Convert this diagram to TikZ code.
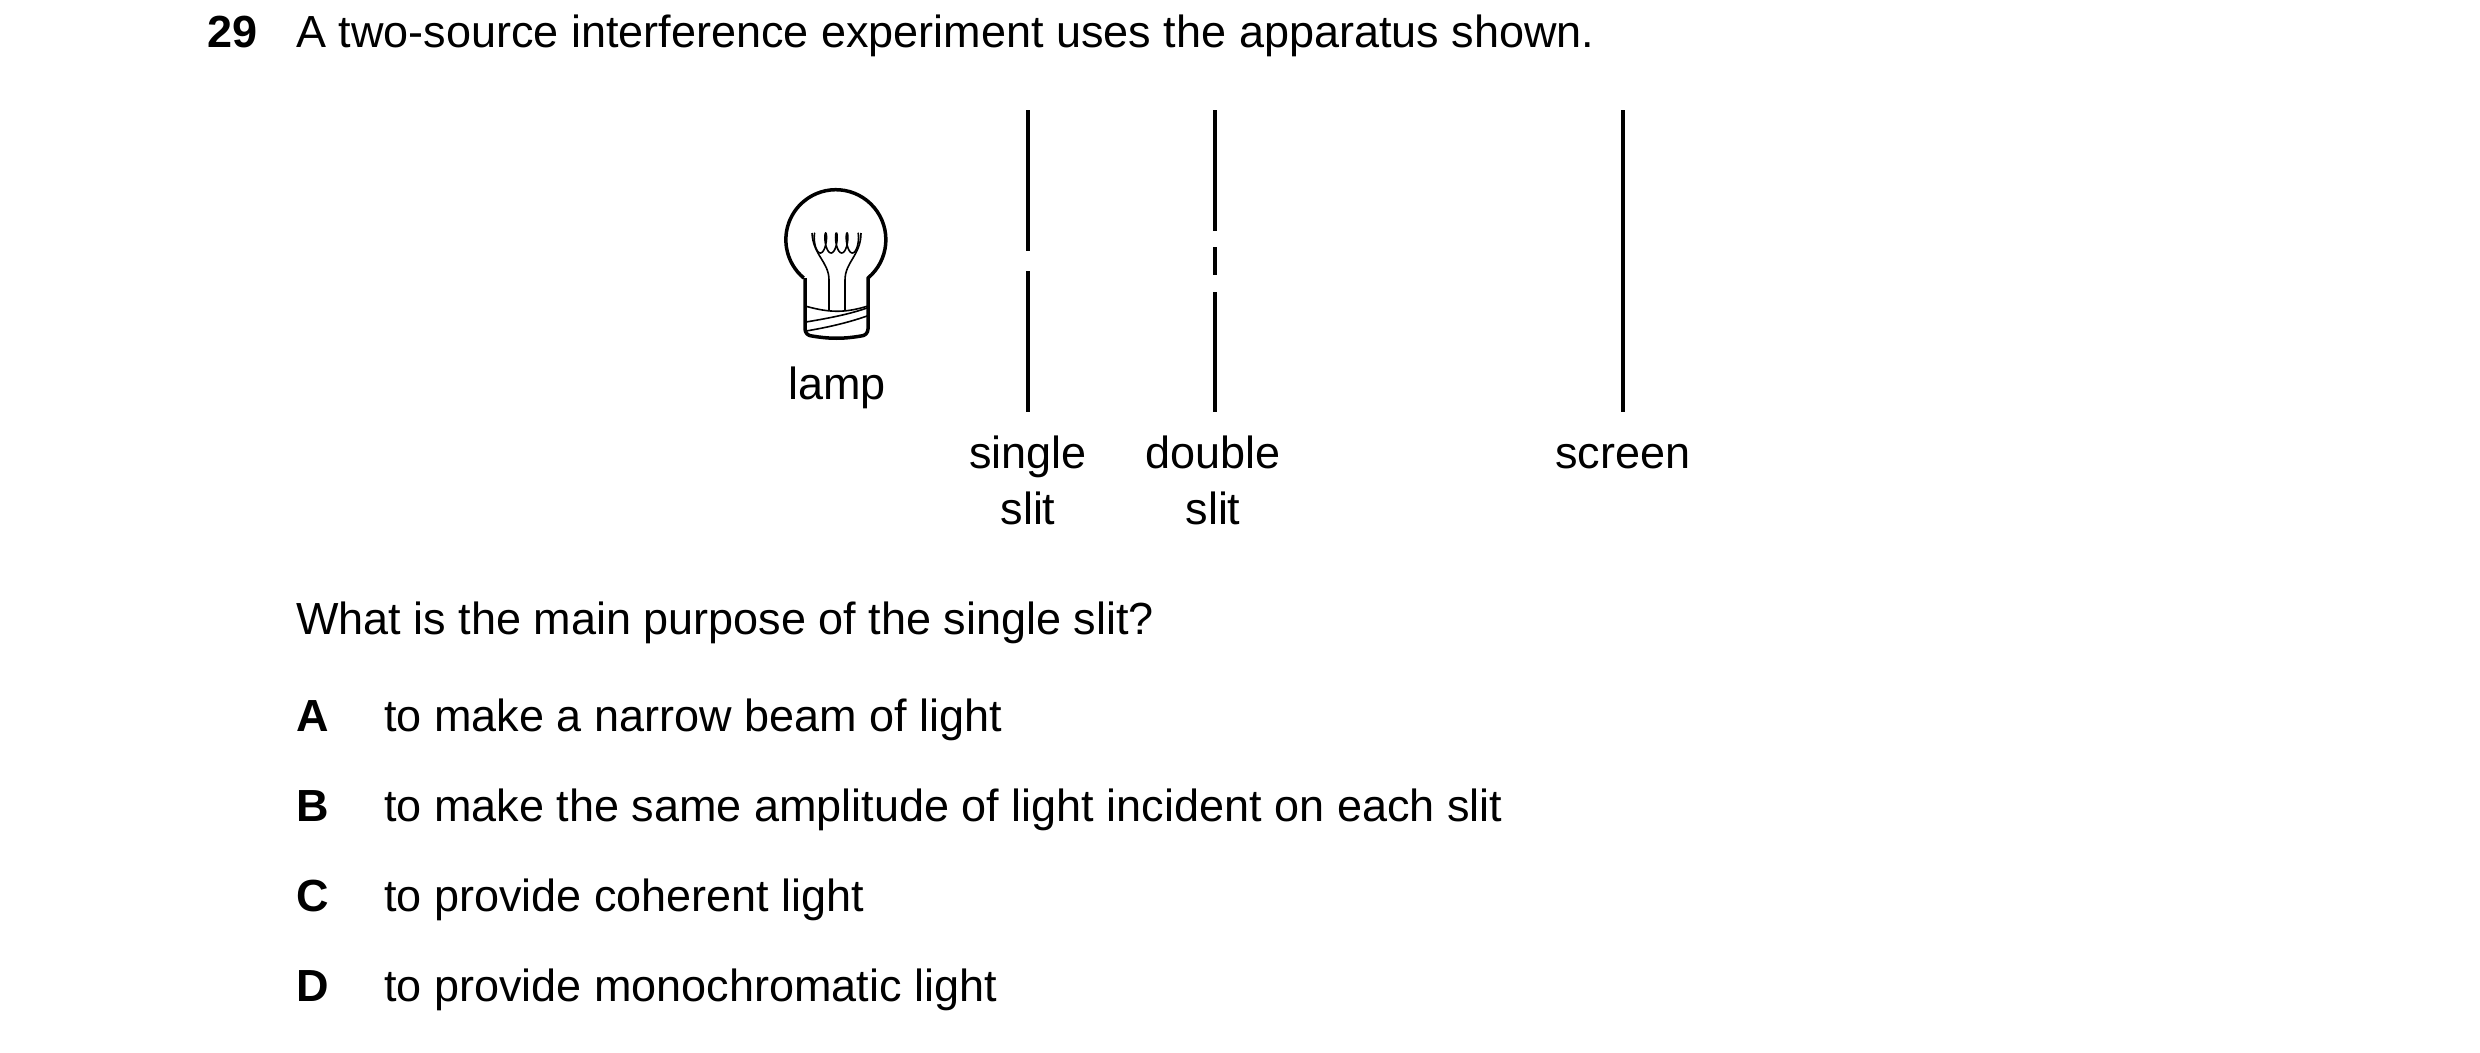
\documentclass[tikz,border=0pt]{standalone}
\usepackage{fontspec}
\setmainfont{Liberation Sans}
\begin{document}
\begin{tikzpicture}[x=1pt,y=-1pt,
  txt/.style={anchor=base west,inner sep=0pt,font=\fontsize{45}{54}\selectfont},
  lbl/.style={anchor=base,inner sep=0pt,font=\fontsize{45}{54}\selectfont},
  slit/.style={line width=4pt},
  bulb/.style={line width=3.5pt,line join=round},
  thin/.style={line width=1.6pt}]
\useasboundingbox (0,0) rectangle (2480,1052);
\node[txt,font=\fontsize{45}{54}\selectfont\bfseries] (num) at (207,47) {29};
\node[txt] (title) at (296,47) {A two-source interference experiment uses the apparatus shown.};
% lamp
\draw[bulb] (805,278) -- (805,329) to[out=270,in=180] (812,336) .. controls (830,339) and (843,339) .. (861,336) to[out=0,in=270] (868,329) -- (868,278) arc[start angle=50,end angle=-230,radius=50];
\draw[thin] (805,306) .. controls (830,313) and (845,313) .. (868,306);
\draw[thin] (806,322) .. controls (830,318) and (850,314) .. (867,308);
\draw[thin] (806,331) .. controls (830,327) and (850,322) .. (867,316);
\draw[thin] (829,310) -- (829,280) .. controls (829,262) and (813,255) .. (812,233);
\draw[thin] (845,310) -- (845,280) .. controls (845,262) and (861,255) .. (861,233);
\draw[thin,domain=0:25.13,samples=120,smooth] plot ({815+\x*1.7-3*sin(\x r)},{243-10*cos(\x r)});
\node[lbl] (lamp) at (837,399) {lamp};
% slits
\draw[slit] (1028,110) coordinate (s1) -- (1028,251);
\draw[slit] (1028,271) -- (1028,412) coordinate (s2);
\draw[slit] (1215,110) coordinate (d1) -- (1215,231);
\draw[slit] (1215,247) -- (1215,275);
\draw[slit] (1215,292) -- (1215,412) coordinate (d2);
\draw[slit] (1623,110) coordinate (sc1) -- (1623,412) coordinate (sc2);
\node[lbl] (ss1) at (1028,468) {single};
\node[lbl] (ss2) at (1028,524) {slit};
\node[lbl] (ds1) at (1213,468) {double};
\node[lbl] (ds2) at (1213,524) {slit};
\node[lbl] (scr) at (1623,468) {screen};
\node[txt] (q) at (296,634) {What is the main purpose of the single slit?};
\foreach \L/\T/\Y in {A/to make a narrow beam of light/731,B/to make the same amplitude of light incident on each slit/821,C/to provide coherent light/911,D/to provide monochromatic light/1001}{
  \node[txt,font=\fontsize{45}{54}\selectfont\bfseries] (opt\L) at (296,\Y) {\L};
  \node[txt] (txt\L) at (384,\Y) {\T};
}
\end{tikzpicture}
\end{document}
